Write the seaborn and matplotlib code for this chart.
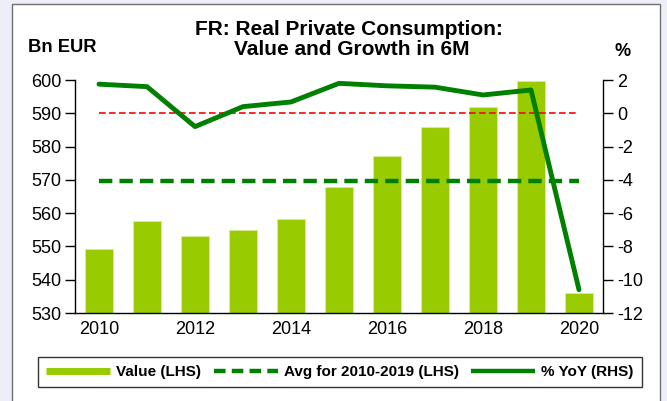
import numpy as np
import pandas as pd
import matplotlib
matplotlib.use("Agg")
import matplotlib.pyplot as plt
from matplotlib.lines import Line2D
from matplotlib.patches import Rectangle
import seaborn as sns

years = [2010, 2011, 2012, 2013, 2014, 2015, 2016, 2017, 2018, 2019, 2020]
value_bn_eur = [549.2, 557.7, 553.0, 554.9, 558.3, 568.0, 577.1, 585.8, 591.9, 599.7, 536.1]
yoy_pct = [1.75, 1.6, -0.8, 0.4, 0.68, 1.8, 1.65, 1.57, 1.1, 1.4, -10.6]
left_ticks = [530, 540, 550, 560, 570, 580, 590, 600]
right_ticks = [-12, -10, -8, -6, -4, -2, 0, 2]

BAR = "#99CC00"
GREEN = "#008000"
RED = "#FF0000"

sns.set_style("white")
plt.rcParams["font.family"] = ["Liberation Sans", "DejaVu Sans"]
plt.rcParams["axes.unicode_minus"] = False
plt.rcParams["text.color"] = "black"
plt.rcParams["xtick.color"] = "black"
plt.rcParams["ytick.color"] = "black"
plt.rcParams["axes.labelcolor"] = "black"

df = pd.DataFrame({"year": [str(y) for y in years], "value": value_bn_eur, "yoy": yoy_pct})
n = len(years)
avg = float(np.mean(value_bn_eur[:10]))

fig = plt.figure(figsize=(6.67, 4.01), dpi=100, facecolor="#EEEEF8")
fig.patches.append(Rectangle((12 / 667, -0.1), (660 - 12) / 667, 1.1 - 4 / 401,
                             transform=fig.transFigure, facecolor="white",
                             edgecolor="#707070", lw=1.0, zorder=-10))

ax = fig.add_axes([75 / 667, 1 - 313 / 401, (603 - 75) / 667, (313 - 80) / 401])
ax.set_facecolor("none")
sns.barplot(data=df, x="year", y="value", color=BAR, width=0.58, ax=ax,
            edgecolor="#d8ec9a", linewidth=0.6, saturation=1)
ax.set_ylim(530, 600)
ax.set_yticks(left_ticks)
ax.set_xlim(-0.5, n - 0.5)
ax.hlines(avg, 0, n - 1, colors=GREEN, linestyles=(0, (3.0, 1.6)), lw=3.2, zorder=3)

ax2 = ax.twinx()
ax2.hlines(0, 0, n - 1, colors=RED, linestyles=(0, (4, 2)), lw=1.2, zorder=2)
sns.lineplot(x=np.arange(n), y=df["yoy"], color=GREEN, lw=3.5, ax=ax2, zorder=4)
ax2.set_ylim(-12, 2)
ax2.set_yticks(right_ticks)
ax2.set_ylabel("")
ax.set_xlabel("")
ax.set_ylabel("")

# x ticks: marks between bars, labels every 2 years
ax.set_xticks(np.arange(-0.5, n, 1.0))
ax.set_xticklabels([])
ax.set_xticks([i for i, y in enumerate(years) if y % 2 == 0], minor=True)
ax.set_xticklabels([str(y) for y in years if y % 2 == 0], minor=True)
ax.tick_params(axis="x", which="major", length=5, width=1, direction="out", color="black")
ax.tick_params(axis="x", which="minor", length=0, pad=6, labelsize=13, labelcolor="black")
ax.tick_params(axis="y", length=7, width=1, direction="out", color="black", labelsize=13, pad=3,
               labelcolor="black")
ax2.tick_params(axis="y", length=7, width=1, direction="out", color="black", labelsize=13, pad=3,
                labelcolor="black")

for a in (ax, ax2):
    a.spines["top"].set_visible(False)
    for s in ("left", "right", "bottom"):
        a.spines[s].set_color("black")
        a.spines[s].set_linewidth(1)
ax.spines["right"].set_visible(False)
ax2.spines["left"].set_visible(False)
ax2.spines["bottom"].set_visible(False)

fig.text(348.5 / 667, 1 - 35 / 401, "FR: Real Private Consumption:",
         ha="center", va="baseline", fontsize=15, fontweight="bold", color="black")
fig.text(352 / 667, 1 - 55 / 401, "Value and Growth in 6M",
         ha="center", va="baseline", fontsize=15, fontweight="bold", color="black")
fig.text(28 / 667, 1 - 48 / 401, "Bn EUR", ha="left", va="center", fontsize=13.2,
         fontweight="bold", color="black")
fig.text(623 / 667, 1 - 51 / 401, "%", ha="center", va="center", fontsize=13,
         fontweight="bold", color="black")

handles = [
    Line2D([], [], color=BAR, lw=5, solid_capstyle="butt"),
    Line2D([], [], color=GREEN, lw=3.2, linestyle=(0, (2.6, 1.4)), dash_capstyle="butt"),
    Line2D([], [], color=GREEN, lw=3.2, solid_capstyle="butt"),
]
labels = ["Value (LHS)", "Avg for 2010-2019 (LHS)", "% YoY (RHS)"]
leg = fig.legend(handles, labels, loc="center", bbox_to_anchor=(340 / 667, 1 - 372 / 401),
                 ncol=3, frameon=True, fancybox=False, edgecolor="black", handlelength=4.2,
                 handletextpad=0.4, columnspacing=0.8, borderpad=0.55, borderaxespad=0,
                 prop={"weight": "bold", "size": 11})
leg.get_frame().set_linewidth(1)
for t in leg.get_texts():
    t.set_color("black")

fig.savefig("out.png", dpi=100, facecolor=fig.get_facecolor())
